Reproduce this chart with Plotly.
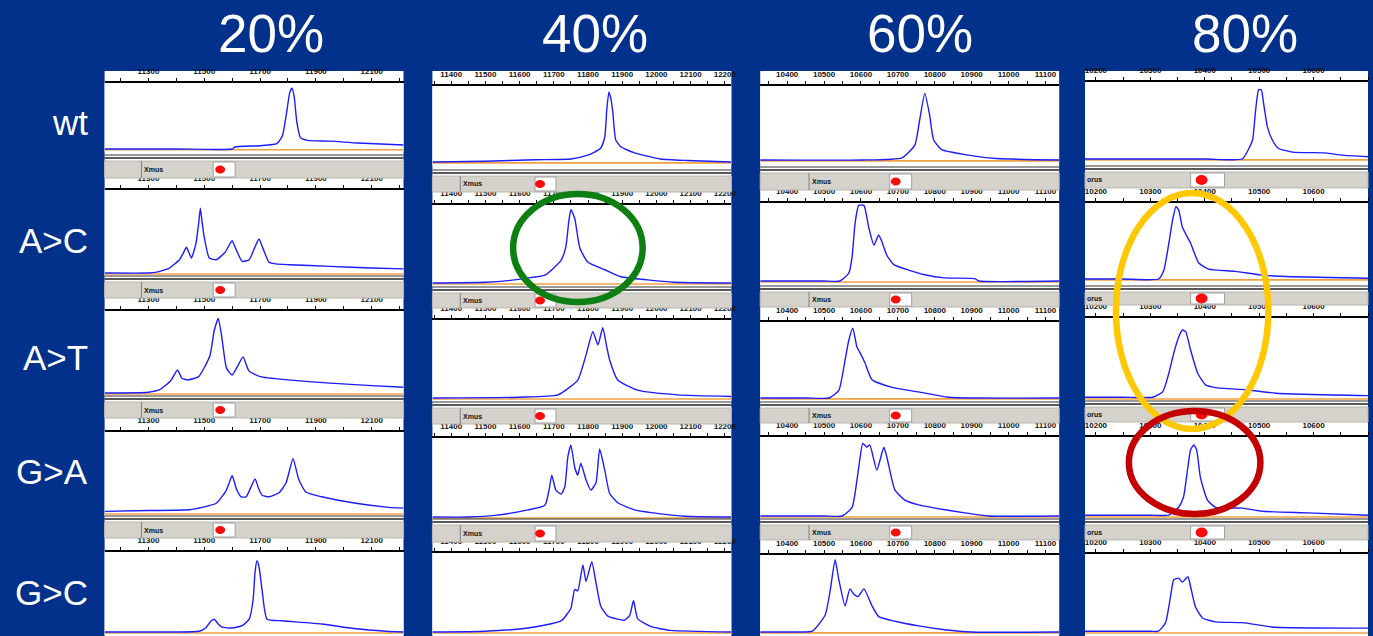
import plotly.graph_objects as go

# ---------------- text ----------------
col_titles = ["20%", "40%", "60%", "80%"]
row_labels = ["wt", "A>C", "A>T", "G>A", "G>C"]
status_text = ["Xmus", "Xmus", "Xmus", "orus"]

# ---------------- axes (mass, Da) ----------------
col_xrange = [[11143, 12214], [11345, 12219], [10327, 11137], [10180, 10700]]
ticks_20 = [11300, 11500, 11700, 11900, 12100]
ticks_40 = [11400, 11500, 11600, 11700, 11800, 11900, 12000, 12100, 12200]
ticks_60 = [10400, 10500, 10600, 10700, 10800, 10900, 11000, 11100]
ticks_80 = [10200, 10300, 10400, 10500, 10600, 10700]
col_ticks = [ticks_20, ticks_40, ticks_60, ticks_80]
col_minor_step = [100, 50, 50, 50]

# ---------------- spectra: mass vs relative intensity ----------------
# 20 %
wt20_m = [11143, 11400, 11600, 11610, 11700, 11760, 11780, 11795, 11806, 11814, 11822, 11832, 11845, 11870, 11950, 12050, 12214]
wt20_y = [0.0, 0.0, 0.0, 0.03, 0.05, 0.08, 0.2, 0.55, 0.85, 0.92, 0.8, 0.4, 0.17, 0.13, 0.12, 0.09, 0.06]
ac20_m = [11143, 11300, 11329, 11375, 11411, 11425, 11436, 11446, 11454, 11470, 11480, 11486, 11492, 11500, 11518, 11543, 11575, 11590, 11600, 11612, 11636, 11661, 11680, 11696, 11710, 11732, 11757, 11804, 11950, 12100, 12214]
ac20_y = [0.0, 0.0, 0.01, 0.06, 0.16, 0.24, 0.31, 0.24, 0.18, 0.35, 0.6, 0.78, 0.62, 0.43, 0.18, 0.16, 0.25, 0.34, 0.39, 0.3, 0.14, 0.16, 0.3, 0.41, 0.3, 0.13, 0.11, 0.1, 0.08, 0.06, 0.05]
at20_m = [11143, 11300, 11340, 11380, 11404, 11420, 11440, 11480, 11520, 11535, 11550, 11562, 11580, 11600, 11620, 11639, 11660, 11700, 11800, 11950, 12100, 12214]
at20_y = [0.0, 0.01, 0.04, 0.15, 0.28, 0.18, 0.16, 0.2, 0.45, 0.75, 0.91, 0.7, 0.3, 0.22, 0.33, 0.44, 0.27, 0.2, 0.16, 0.12, 0.09, 0.07]
ga20_m = [11143, 11300, 11446, 11493, 11543, 11579, 11600, 11615, 11632, 11650, 11682, 11695, 11707, 11732, 11768, 11793, 11818, 11839, 11864, 11921, 12043, 12161, 12214]
ga20_y = [0.02, 0.03, 0.04, 0.07, 0.12, 0.28, 0.46, 0.3, 0.2, 0.2, 0.42, 0.3, 0.22, 0.2, 0.25, 0.37, 0.67, 0.41, 0.26, 0.2, 0.12, 0.07, 0.06]
gc20_m = [11143, 11400, 11482, 11505, 11525, 11536, 11550, 11564, 11600, 11636, 11661, 11675, 11682, 11689, 11697, 11707, 11725, 11779, 11921, 12043, 12150, 12214]
gc20_y = [0.0, 0.0, 0.01, 0.05, 0.14, 0.16, 0.1, 0.06, 0.05, 0.08, 0.16, 0.4, 0.75, 0.89, 0.8, 0.53, 0.16, 0.14, 0.1, 0.04, 0.01, 0.0]
# 40 %
wt40_m = [11345, 11500, 11645, 11750, 11799, 11837, 11849, 11855, 11861, 11866, 11872, 11881, 11896, 11936, 12012, 12091, 12219]
wt40_y = [0.0, 0.01, 0.03, 0.04, 0.09, 0.18, 0.33, 0.7, 0.92, 0.85, 0.68, 0.29, 0.2, 0.12, 0.04, 0.02, 0.0]
ac40_m = [11345, 11500, 11566, 11616, 11674, 11721, 11735, 11744, 11750, 11761, 11776, 11799, 11849, 11896, 11974, 12050, 12219]
ac40_y = [0.0, 0.01, 0.03, 0.06, 0.1, 0.29, 0.46, 0.8, 0.94, 0.83, 0.45, 0.27, 0.17, 0.08, 0.04, 0.01, 0.0]
at40_m = [11345, 11600, 11712, 11770, 11794, 11814, 11829, 11843, 11855, 11863, 11887, 11945, 12062, 12219]
at40_y = [0.0, 0.01, 0.04, 0.23, 0.55, 0.85, 0.68, 0.9, 0.65, 0.49, 0.23, 0.1, 0.04, 0.02]
ga40_m = [11345, 11450, 11528, 11624, 11674, 11686, 11694, 11706, 11721, 11732, 11741, 11750, 11761, 11770, 11779, 11794, 11808, 11823, 11834, 11849, 11863, 11887, 11936, 12012, 12082, 12219]
ga40_y = [0.0, 0.0, 0.02, 0.09, 0.15, 0.34, 0.53, 0.34, 0.29, 0.38, 0.76, 0.91, 0.63, 0.53, 0.68, 0.47, 0.34, 0.43, 0.86, 0.59, 0.3, 0.18, 0.09, 0.04, 0.01, 0.0]
gc40_m = [11345, 11500, 11624, 11721, 11750, 11761, 11770, 11785, 11794, 11811, 11823, 11837, 11858, 11907, 11922, 11933, 11945, 11983, 12041, 12219]
gc40_y = [0.0, 0.01, 0.05, 0.14, 0.3, 0.54, 0.52, 0.85, 0.64, 0.89, 0.63, 0.33, 0.2, 0.15, 0.21, 0.4, 0.17, 0.07, 0.02, 0.0]
# 60 %
wt60_m = [10327, 10600, 10711, 10746, 10759, 10773, 10786, 10797, 10819, 10886, 10967, 11137]
wt60_y = [0.0, 0.0, 0.03, 0.2, 0.54, 0.9, 0.61, 0.27, 0.14, 0.07, 0.02, 0.0]
ac60_m = [10327, 10500, 10543, 10567, 10576, 10584, 10594, 10608, 10621, 10635, 10648, 10657, 10670, 10689, 10729, 10773, 10827, 10908, 10920, 11137]
ac60_y = [0.0, 0.0, 0.0, 0.1, 0.31, 0.74, 0.97, 0.97, 0.69, 0.46, 0.59, 0.5, 0.33, 0.21, 0.14, 0.08, 0.04, 0.03, 0.0, 0.0]
at60_m = [10327, 10450, 10513, 10540, 10557, 10567, 10578, 10589, 10597, 10611, 10630, 10684, 10756, 10837, 11137]
at60_y = [0.0, 0.0, 0.0, 0.1, 0.5, 0.76, 0.92, 0.67, 0.6, 0.46, 0.24, 0.14, 0.08, 0.01, 0.0]
ga60_m = [10327, 10500, 10549, 10576, 10594, 10605, 10616, 10624, 10643, 10662, 10670, 10692, 10719, 10756, 10800, 10881, 10945, 11137]
ga60_y = [0.0, 0.0, 0.0, 0.11, 0.62, 0.92, 0.87, 0.9, 0.58, 0.87, 0.75, 0.33, 0.2, 0.14, 0.1, 0.04, 0.0, 0.0]
gc60_m = [10327, 10420, 10468, 10503, 10516, 10530, 10540, 10557, 10570, 10581, 10592, 10608, 10630, 10648, 10692, 10756, 10827, 10900, 11137]
gc60_y = [0.0, 0.0, 0.01, 0.22, 0.52, 0.94, 0.68, 0.34, 0.56, 0.49, 0.46, 0.56, 0.34, 0.2, 0.14, 0.08, 0.03, 0.0, 0.0]
# 80 %
wt80_m = [10180, 10400, 10469, 10480, 10488, 10493, 10499, 10504, 10508, 10515, 10524, 10535, 10561, 10621, 10652, 10700]
wt80_y = [0.0, 0.0, 0.0, 0.12, 0.25, 0.6, 0.9, 0.9, 0.73, 0.42, 0.25, 0.14, 0.09, 0.08, 0.05, 0.03]
ac80_m = [10180, 10250, 10315, 10325, 10334, 10341, 10347, 10352, 10359, 10374, 10389, 10407, 10456, 10506, 10561, 10700]
ac80_y = [0.0, 0.0, 0.0, 0.12, 0.47, 0.78, 0.95, 0.91, 0.68, 0.47, 0.21, 0.13, 0.1, 0.05, 0.03, 0.01]
at80_m = [10180, 10250, 10304, 10323, 10334, 10343, 10352, 10359, 10365, 10374, 10387, 10402, 10420, 10480, 10530, 10700]
at80_y = [0.01, 0.01, 0.01, 0.08, 0.31, 0.56, 0.76, 0.85, 0.83, 0.6, 0.31, 0.16, 0.13, 0.1, 0.06, 0.03]
ga80_m = [10180, 10300, 10334, 10352, 10361, 10369, 10374, 10380, 10385, 10392, 10405, 10420, 10469, 10506, 10590, 10700]
ga80_y = [0.01, 0.01, 0.01, 0.11, 0.24, 0.62, 0.84, 0.9, 0.84, 0.49, 0.2, 0.11, 0.1, 0.06, 0.04, 0.01]
gc80_m = [10180, 10300, 10315, 10328, 10337, 10343, 10352, 10359, 10369, 10374, 10383, 10396, 10420, 10469, 10530, 10700]
gc80_y = [0.01, 0.01, 0.01, 0.12, 0.45, 0.67, 0.69, 0.64, 0.71, 0.58, 0.32, 0.18, 0.13, 0.12, 0.06, 0.05]

spectra = [
    [(wt20_m, wt20_y), (ac20_m, ac20_y), (at20_m, at20_y), (ga20_m, ga20_y), (gc20_m, gc20_y)],
    [(wt40_m, wt40_y), (ac40_m, ac40_y), (at40_m, at40_y), (ga40_m, ga40_y), (gc40_m, gc40_y)],
    [(wt60_m, wt60_y), (ac60_m, ac60_y), (at60_m, at60_y), (ga60_m, ga60_y), (gc60_m, gc60_y)],
    [(wt80_m, wt80_y), (ac80_m, ac80_y), (at80_m, at80_y), (ga80_m, ga80_y), (gc80_m, gc80_y)],
]

# ---------------- page geometry (pixels) ----------------
W, H = 1373, 636
BG = "#01318a"
col_px = [(105, 405), (434, 734), (763, 1063), (1089, 1373)]
panel_top = 71
# (axis line y, baseline y) per column, per row
row_px = [
    [(83, 149), (190, 273), (311, 393), (432, 513), (552, 632)],
    [(86, 162), (205, 283), (320, 398), (438, 517), (553, 632)],
    [(86, 160), (203, 281), (322, 398), (437, 516), (555, 632)],
    [(82, 159), (203, 279), (318, 398), (437, 516), (554, 632)],
]
bar_px = [
    [(161, 178), (282, 298), (402, 418), (522, 538)],
    [(176, 192), (293, 308), (408, 424), (525, 542)],
    [(173, 190), (292, 307), (408, 423), (525, 540)],
    [(172, 188), (292, 305), (407, 422), (525, 540)],
]
# status bar: separator x, white box (x0,x1), dot centre x
status_px = [(142, 214, 236, 221), (462, 537, 558, 542), (812, 893, 915, 899), (None, 1195, 1229, 1206)]

title_x = [272, 597, 923, 1250]
row_label_y = [122, 240, 357, 472, 592]


def xp(px):
    return min(max(px / W, 0.0), 1.0)


def yp(py):
    return min(max(1 - py / H, 0.0), 1.0)


R0 = -0.04  # bottom of intensity range

fig = go.Figure()
layout = dict(
    width=W, height=H, autosize=False,
    margin=dict(l=0, r=0, t=0, b=0, pad=0),
    paper_bgcolor=BG, plot_bgcolor="white",
    showlegend=False,
)
shapes = []
annotations = []

k = 0
for c in range(4):
    x0, x1 = col_px[c]
    shapes.append(dict(type="rect", xref="paper", yref="paper", layer="below",
                       x0=xp(x0), x1=xp(x1), y0=0, y1=yp(panel_top),
                       fillcolor="white", line=dict(width=0)))
    tv = col_ticks[c]
    step = col_minor_step[c]
    lo, hi = col_xrange[c]
    first = tv[0] - step * int((tv[0] - lo) // step)
    minor_vals = []
    v = first
    while v <= hi:
        minor_vals.append(v)
        v += step
    for r in range(5):
        k += 1
        sfx = "" if k == 1 else str(k)
        ax_py, base_py = row_px[c][r]
        hgt = base_py - ax_py
        bot_py = base_py + (-R0) * hgt
        layout["xaxis" + sfx] = dict(
            domain=[xp(x0), xp(x1)], range=col_xrange[c], side="top",
            anchor="y" + sfx, showline=True, linecolor="black", linewidth=1.5,
            ticks="outside", ticklen=3, tickwidth=1, tickcolor="black",
            tickmode="array", tickvals=tv, ticktext=[str(t) for t in tv],
            tickfont=dict(size=8, color="#111111", family="Liberation Sans", weight="bold"),
            minor=dict(tickmode="array", tickvals=minor_vals, ticks="outside",
                       ticklen=3, tickwidth=1, tickcolor="black", showgrid=False),
            showgrid=False, zeroline=False, fixedrange=True, ticklabelstandoff=1,
        )
        layout["yaxis" + sfx] = dict(
            domain=[yp(bot_py), yp(ax_py)], range=[R0, 1.0], visible=False,
            anchor="x" + sfx, fixedrange=True,
        )
        m, iy = spectra[c][r]
        fig.add_trace(go.Scatter(x=m, y=iy, mode="lines",
                                 line=dict(color="#1c1cff", width=1.4, shape="spline", smoothing=0.5),
                                 xaxis="x" + sfx, yaxis="y" + sfx,
                                 hoverinfo="skip", showlegend=False))
        shapes.append(dict(type="line", xref="x" + sfx + " domain", yref="y" + sfx,
                           x0=0, x1=1, y0=-0.012, y1=-0.012, layer="below",
                           line=dict(color="#f0a040", width=1.6)))

    sep, bx0, bx1, dx = status_px[c]
    for (g0, g1) in bar_px[c]:
        shapes.append(dict(type="line", xref="paper", yref="paper",
                           x0=xp(x0), x1=xp(x1), y0=yp(g0 - 6), y1=yp(g0 - 6),
                           line=dict(color="#333333", width=1)))
        shapes.append(dict(type="line", xref="paper", yref="paper",
                           x0=xp(x0), x1=xp(x1), y0=yp(g0 - 3), y1=yp(g0 - 3),
                           line=dict(color="#222222", width=1.5)))
        shapes.append(dict(type="rect", xref="paper", yref="paper",
                           x0=xp(x0), x1=xp(x1), y0=yp(g1), y1=yp(g0),
                           fillcolor="#d4d2ca", line=dict(color="#b8b6ae", width=1)))
        if sep is not None:
            shapes.append(dict(type="line", xref="paper", yref="paper",
                               x0=xp(sep), x1=xp(sep), y0=yp(g1), y1=yp(g0),
                               line=dict(color="#808080", width=1)))
        shapes.append(dict(type="rect", xref="paper", yref="paper",
                           x0=xp(bx0), x1=xp(bx1), y0=yp(g1 - 1), y1=yp(g0 + 1),
                           fillcolor="white", line=dict(color="#a0a0a0", width=1)))
        rr = 5 if c < 3 else 6
        gm = (g0 + g1) / 2
        shapes.append(dict(type="circle", xref="paper", yref="paper",
                           x0=xp(dx - rr), x1=xp(dx + rr), y0=yp(gm + rr - 1), y1=yp(gm - rr + 1),
                           fillcolor="#ff0a0a", line=dict(width=0)))
        lab_x = (sep + 1) if sep is not None else x0
        annotations.append(dict(xref="paper", yref="paper", x=xp(lab_x), y=yp(gm),
                                text=status_text[c], showarrow=False, xanchor="left",
                                yanchor="middle",
                                font=dict(size=7, color="#111111", family="Liberation Sans", weight="bold")))

    annotations.append(dict(xref="paper", yref="paper", x=xp(title_x[c]), y=yp(34),
                            text=col_titles[c], showarrow=False, xanchor="center", yanchor="middle",
                            font=dict(size=53, color="white", family="Liberation Sans")))

for r in range(5):
    annotations.append(dict(xref="paper", yref="paper", x=xp(90), y=yp(row_label_y[r]),
                            text=row_labels[r], showarrow=False, xanchor="right", yanchor="middle",
                            font=dict(size=35, color="white", family="Liberation Sans")))

rings = [
    ((512, 648, 191, 305), "#0e7f12"),
    ((1117, 1276, 190, 432), "#ffc800"),
    ((1130, 1268, 408, 517), "#c40000"),
]
for (a0, a1, b0, b1), col in rings:
    shapes.append(dict(type="circle", xref="paper", yref="paper", layer="above",
                       x0=xp(a0 + 3), x1=xp(a1 - 3), y0=yp(b1 - 3), y1=yp(b0 + 3),
                       line=dict(color=col, width=6.5), fillcolor="rgba(0,0,0,0)"))

layout["shapes"] = shapes
layout["annotations"] = annotations
fig.update_layout(**layout)
fig.write_html("out.html", config={"displayModeBar": False},
               post_script="document.body.style.margin='0';document.body.style.overflow='hidden';")
